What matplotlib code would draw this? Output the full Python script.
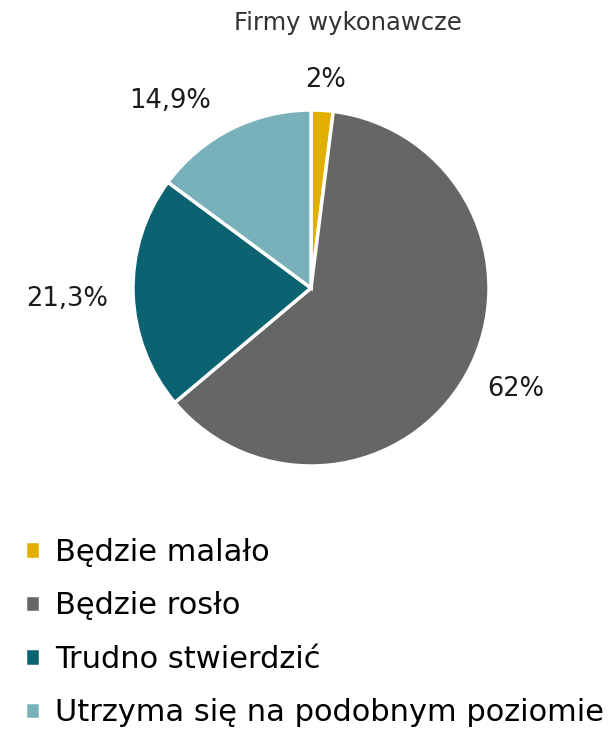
import matplotlib.pyplot as plt

plt.rcParams['font.family'] = ['DejaVu Sans']

title = 'Firmy wykonawcze'
categories = ['Będzie malało', 'Będzie rosło', 'Trudno stwierdzić',
              'Utrzyma się na podobnym poziomie']
shares = [2, 62, 21.3, 14.9]
share_labels = ['2%', '62%', '21,3%', '14,9%']
colors = ['#E2AE00', '#666666', '#0B6270', '#78B1B9']

fig = plt.figure(figsize=(6.15, 7.31), dpi=100)

# pie area: centre ~ (311, 288) px, radius ~178 px
cx, cy, r = 311, 288, 178
W, H = 615, 731
ax = fig.add_axes([(cx - r) / W, (H - cy - r) / H, 2 * r / W, 2 * r / H])
wedges, texts = ax.pie(shares, colors=colors, startangle=90, counterclock=False,
                       labels=share_labels, labeldistance=1.2,
                       wedgeprops=dict(edgecolor='white', linewidth=2.5),
                       textprops=dict(fontsize=18.5, color='#1a1a1a'))
ax.set_xlim(-1, 1)
ax.set_ylim(-1, 1)
ax.set_aspect('equal')

# label placement around the pie (data units, radius = 1)
label_pos = [(0.08, 1.17), (1.15, -0.57), (-1.37, -0.06), (-0.79, 1.05)]
for t, (x, y) in zip(texts, label_pos):
    t.set_position((x, y))
    t.set_ha('center')
    t.set_va('center')

fig.text(0.565, 0.968, title, ha='center', va='center', fontsize=17.5, color='#333333')

fig.legend(wedges, categories, loc='upper left', bbox_to_anchor=(0.02, 0.281),
           frameon=False, fontsize=22, handlelength=0.5, handleheight=0.5,
           handletextpad=0.5, labelspacing=0.8, borderaxespad=0)

fig.savefig('out.png', dpi=100)
